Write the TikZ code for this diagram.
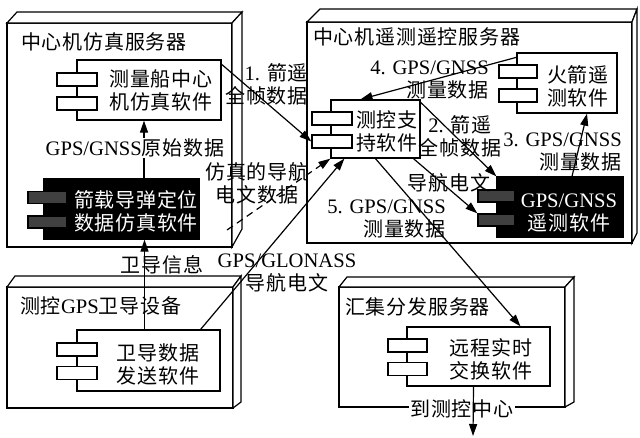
\documentclass[tikz,border=0pt]{standalone}
\usepackage{fontspec}
\setmainfont{Liberation Serif}[Scale=1.03]
\newfontfamily\cjk{Noto Sans CJK SC}[LetterSpace=4]
\usetikzlibrary{arrows.meta}
\newcommand\zh[1]{{\cjk #1}}
\begin{document}
\begin{tikzpicture}[x=1pt,y=-1pt,
  boxline/.style={draw, line width=1.2pt, fill=white},
  comp/.style={draw, line width=1.3pt, fill=white, inner sep=0pt},
  darkcomp/.style={comp, fill=black},
  port/.style={draw, line width=1.3pt, fill=white, inner sep=0pt, minimum height=13pt},
  darkport/.style={port, fill=black!75},
  txt/.style={font=\fontsize{20}{23}\selectfont, align=center, inner sep=0pt},
  arr/.style={line width=1.2pt, -{Triangle[length=12pt,width=8pt]}},
]
\useasboundingbox[fill=white] (0,0) rectangle (640,437);

% ---------- 3D server boxes ----------
\draw[boxline] (7,23) rectangle (232,247);
\draw[boxline] (7,23) -- (17,12) -- (242,12) -- (232,23) -- cycle;
\draw[boxline] (232,23) -- (242,12) -- (242,229) -- (232,247) -- cycle;

\draw[boxline] (307,22) rectangle (632,243);
\draw[boxline] (307,22) -- (320,9) -- (637,9) -- (632,22) -- cycle;
\draw[boxline] (632,22) -- (637,9) -- (637,233) -- (632,243) -- cycle;

\draw[boxline] (7,287) rectangle (233,408);
\draw[boxline] (7,287) -- (15,276) -- (241,276) -- (233,287) -- cycle;
\draw[boxline] (233,287) -- (241,276) -- (241,402) -- (233,408) -- cycle;

\draw[boxline] (339,287) rectangle (565,407);
\draw[boxline] (339,287) -- (347,277) -- (574,277) -- (565,287) -- cycle;
\draw[boxline] (565,287) -- (574,277) -- (574,402) -- (565,407) -- cycle;

% titles
\node[txt, anchor=west] (T1) at (21,42) {\zh{中心机仿真服务器}};
\node[txt, anchor=west] (T2) at (313,37) {\zh{中心机遥测遥控服务器}};
\node[txt, anchor=west] (T3) at (20,306) {\zh{测控}GPS\zh{卫导设备}};
\node[txt, anchor=west] (T4) at (345,307) {\zh{汇集分发服务器}};

\node[txt, fill=white, inner sep=1pt] (Lc) at (462,409) {\zh{到测控中心}};

% ---------- components ----------
\node[comp, minimum width=144pt, minimum height=60pt] (A) at (149,90) {};
\node[port, minimum width=40pt] (A1) at (77,79.5) {};
\node[port, minimum width=40pt] (A2) at (77,103.5) {};
\node[txt] (At) at (161,90) {\zh{测量船中心}\\\zh{机仿真软件}};

\node[darkcomp, minimum width=155pt, minimum height=60pt] (B) at (121.5,209) {};
\node[darkport, minimum width=39pt, minimum height=12pt] (B1) at (47.5,197.5) {};
\node[darkport, minimum width=39pt, minimum height=12pt] (B2) at (47.5,222) {};
\node[txt, text=white] (Bt) at (136,211) {\zh{箭载导弹定位}\\\zh{数据仿真软件}};

\node[comp, minimum width=89pt, minimum height=58pt] (C) at (375.5,129) {};
\node[port, minimum width=40pt] (C1) at (332,118.5) {};
\node[port, minimum width=40pt] (C2) at (332,141.5) {};
\node[txt] (Ct) at (387,131) {\zh{测控支}\\\zh{持软件}};

\node[comp, minimum width=100pt, minimum height=60pt] (D) at (567,83) {};
\node[port, minimum width=38pt] (D1) at (518,71.5) {};
\node[port, minimum width=38pt] (D2) at (518,95.5) {};
\node[txt] (Dt) at (578,86) {\zh{火箭遥}\\\zh{测软件}};

\node[darkcomp, minimum width=126pt, minimum height=60pt] (E) at (560,207) {};
\node[darkport, minimum width=37pt, minimum height=12pt] (E1) at (496.5,196) {};
\node[darkport, minimum width=37pt, minimum height=12pt] (E2) at (496.5,220) {};
\node[txt, text=white] (Et) at (569,213) {GPS/GNSS\\\zh{遥测软件}};

\node[comp, minimum width=143pt, minimum height=61pt] (F) at (148.5,360.5) {};
\node[port, minimum width=40pt] (F1) at (77,349.5) {};
\node[port, minimum width=40pt] (F2) at (77,373) {};
\node[txt] (Ft) at (158,364) {\zh{卫导数据}\\\zh{发送软件}};

\node[comp, minimum width=143pt, minimum height=59pt] (G) at (478.5,356.5) {};
\node[port, minimum width=39pt] (G1) at (407.5,345.5) {};
\node[port, minimum width=39pt] (G2) at (407.5,369) {};
\node[txt] (Gt) at (491,359) {\zh{远程实时}\\\zh{交换软件}};

% ---------- connectors ----------
\draw[arr] ([yshift=-5pt]A.north east) -- (C2.west);
\draw[arr] ([yshift=-3pt]C.north east) -- (E.north west);
\draw[arr] ([xshift=12pt]E.north) -- ([xshift=20pt]D.south);
\draw[arr] ([yshift=-5pt]D.north west) -- ([xshift=-15pt]C.north);
\draw[arr] (C.south) -- ([xshift=42pt]G.north);
\draw[arr] ([xshift=38pt]C.south) -- (E2.north west);
\coordinate (ab) at ([xshift=-5pt]A.south);
\draw[arr] (ab |- B.north) -- (ab);
\coordinate (fb) at ([xshift=-4pt]F.north);
\draw[arr] (fb) -- (fb |- B.south);
\coordinate (ds) at (227,230);
\draw[arr, dash pattern=on 7pt off 5pt] (ds) -- (C.south west);
\draw[arr] ([xshift=-20pt]F.north east) -- ([xshift=14pt]C.south west);
\coordinate (out) at (473,436);
\draw[arr] ([xshift=-5pt]G.south) -- (out);

% ---------- labels ----------
\node[txt, align=right, anchor=east] (L1) at (308,84) {1. \zh{箭遥}\\\zh{全帧数据}};
\node[txt, fill=white, inner sep=1pt] (Lraw) at (135,148) {GPS/GNSS\zh{原始数据}};
\node[txt] (Lsim) at (257,183) {\zh{仿真的导航}\\\zh{电文数据}};
\node[txt] (Lglo) at (287,273) {GPS/GLONASS\\\zh{导航电文}};
\node[txt] (Lwd) at (162,265) {\zh{卫导信息}};
\node[txt, align=right, anchor=east] (L4) at (489,80) {4. GPS/GNSS\\\zh{测量数据}};
\node[txt] (L2) at (460,136) {2. \zh{箭遥}\\\zh{全帧数据}};
\node[txt, align=right, anchor=east] (L3) at (622,152) {3. GPS/GNSS\\\zh{测量数据}};
\node[txt] (Lnav) at (449,183) {\zh{导航电文}};
\node[txt, align=right, anchor=east] (L5) at (446,219) {5. GPS/GNSS\\\zh{测量数据}};
\end{tikzpicture}
\end{document}
